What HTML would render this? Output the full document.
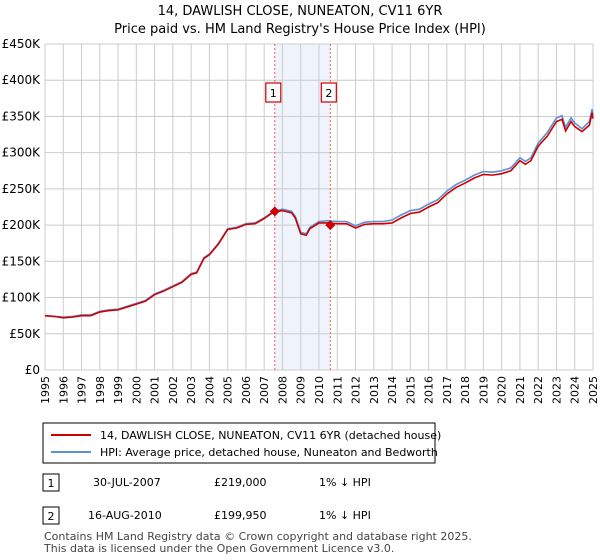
<!DOCTYPE html>
<html><head><meta charset="utf-8"><style>
body{margin:0;width:600px;height:560px;background:#fff;font-family:"DejaVu Sans","Liberation Sans",sans-serif;overflow:hidden}
</style></head><body>
<svg width="600" height="560" style="position:absolute;left:0;top:0" font-family="DejaVu Sans, Liberation Sans, sans-serif">
<text x="300" y="15" text-anchor="middle" font-size="13">14, DAWLISH CLOSE, NUNEATON, CV11 6YR</text>
<text x="300" y="33" text-anchor="middle" font-size="13">Price paid vs. HM Land Registry's House Price Index (HPI)</text>
<g id="grid"></g><g id="plot"></g><g id="axes"></g>
<rect x="43" y="423" width="392" height="40" fill="#fff" stroke="#000" stroke-width="1"/>
<line x1="51" y1="435" x2="91" y2="435" stroke="#cc0000" stroke-width="2"/>
<text x="100" y="439" font-size="11">14, DAWLISH CLOSE, NUNEATON, CV11 6YR (detached house)</text>
<line x1="51" y1="452" x2="91" y2="452" stroke="#5b8fd4" stroke-width="2"/>
<text x="100" y="456" font-size="11">HPI: Average price, detached house, Nuneaton and Bedworth</text>
<rect x="43" y="474" width="16" height="17" fill="#fff" stroke="#000"/>
<text x="51" y="487" font-size="11" text-anchor="middle">1</text>
<text x="93" y="486" font-size="11">30-JUL-2007</text>
<text x="214" y="486" font-size="11">£219,000</text>
<text x="319" y="486" font-size="11">1% ↓ HPI</text>
<rect x="43" y="507" width="16" height="17" fill="#fff" stroke="#000"/>
<text x="51" y="520" font-size="11" text-anchor="middle">2</text>
<text x="88" y="519" font-size="11">16-AUG-2010</text>
<text x="214" y="519" font-size="11">£199,950</text>
<text x="319" y="519" font-size="11">1% ↓ HPI</text>
<text x="44" y="540" font-size="11" fill="#444">Contains HM Land Registry data © Crown copyright and database right 2025.</text>
<text x="44" y="552" font-size="11" fill="#444">This data is licensed under the Open Government Licence v3.0.</text>
</svg>
<script>
const years=[1995,1995.5,1996,1996.5,1997,1997.5,1998,1998.5,1999,1999.5,2000,2000.5,2001,2001.5,2002,2002.5,2003,2003.3,2003.7,2004,2004.5,2005,2005.5,2006,2006.5,2007,2007.5,2008,2008.5,2008.7,2009,2009.3,2009.5,2010,2010.5,2011,2011.5,2012,2012.5,2013,2013.5,2014,2014.5,2015,2015.5,2016,2016.5,2017,2017.5,2018,2018.5,2019,2019.5,2020,2020.5,2021,2021.3,2021.6,2022,2022.5,2023,2023.3,2023.5,2023.8,2024,2024.4,2024.8,2024.95,2025];
const hpi=[75,74,73,74,76,76,81,83,84,88,92,96,105,110,116,122,133,135,155,160,175,195,197,202,203,210,219,222,219,212,190,188,197,205,206,205,205,199,204,205,205,207,214,220,222,229,235,247,256,262,269,274,273,275,279,293,288,293,313,328,348,351,335,348,341,333,343,360,352];
const price=[75,74,72,73,75,75,80,82,83,87,91,95,104,109,115,121,132,134,154,159,174,194,196,201,202,209,218,220,217,210,188,186,195,203,203,202,202,196,201,202,202,203,210,216,218,225,231,243,252,258,265,270,269,271,275,289,284,289,309,323,343,346,330,343,336,329,338,355,347];
const yTicks=[0,50,100,150,200,250,300,350,400,450];
const sales=[{t:2007.58,v:219,n:"1"},{t:2010.62,v:199.95,n:"2"}];
const X0=45,X1=593,Y0=370,Y1=44;
const x=t=>X0+(t-1995)/30*(X1-X0);
const y=v=>Y0-v/450*(Y0-Y1);
const NS="http://www.w3.org/2000/svg";
function mk(tag,at,parent){const e=document.createElementNS(NS,tag);for(const k in at)e.setAttribute(k,at[k]);document.getElementById(parent).appendChild(e);return e;}
// shaded band
let band=mk("rect",{x:x(sales[0].t),y:Y1,width:x(sales[1].t)-x(sales[0].t),height:Y0-Y1,fill:"#eef3fc"},"grid");


for(let yr=1995;yr<=2025;yr++){
 const g=mk("line",{x1:x(yr),x2:x(yr),y1:Y1,y2:Y0,stroke:"#cccccc","stroke-width":1},"grid");
 
 
 const tx=x(yr),ty=376;
 const lb=mk("text",{x:tx,y:ty,"font-size":11,"text-anchor":"end",transform:`rotate(-90 ${tx} ${ty})`,dy:"4"},"axes");
 lb.textContent=yr;
 
 
}
yTicks.forEach(v=>{
 const g=mk("line",{x1:X0,x2:X1,y1:y(v),y2:y(v),stroke:"#cccccc","stroke-width":1},"grid");
 
 
 const lb=mk("text",{x:40,y:y(v)+4,"font-size":12,"text-anchor":"end"},"axes");
 lb.textContent=v===0?"£0":"£"+v+"K";
 
 
});
sales.forEach(s=>{
 const l=mk("line",{x1:x(s.t),x2:x(s.t),y1:Y1,y2:Y0,stroke:"#ff5555","stroke-width":1,"stroke-dasharray":"2,2"},"grid");
 
 
});
const hp=mk("polyline",{points:years.map((t,i)=>x(t)+","+y(hpi[i])).join(" "),fill:"none",stroke:"#5b8fd4","stroke-width":1.6},"plot");


const pp=mk("polyline",{points:years.map((t,i)=>x(t)+","+y(price[i])).join(" "),fill:"none",stroke:"#cc0000","stroke-width":1.6},"plot");


sales.forEach(s=>{
 const cx=x(s.t),cy=y(s.v);
 const d=mk("polygon",{points:`${cx},${cy-5} ${cx+5},${cy} ${cx},${cy+5} ${cx-5},${cy}`,fill:"#cc0000"},"plot");
 
 
 const b=mk("rect",{x:cx-9,y:83,width:15,height:19,fill:"#fff",stroke:"#cc0000","stroke-width":1.2},"plot");
 
 
 const t=mk("text",{x:cx-1.5,y:97,"font-size":11,"text-anchor":"middle"},"plot");
 t.textContent=s.n;
 
 
});
</script>
</body></html>
